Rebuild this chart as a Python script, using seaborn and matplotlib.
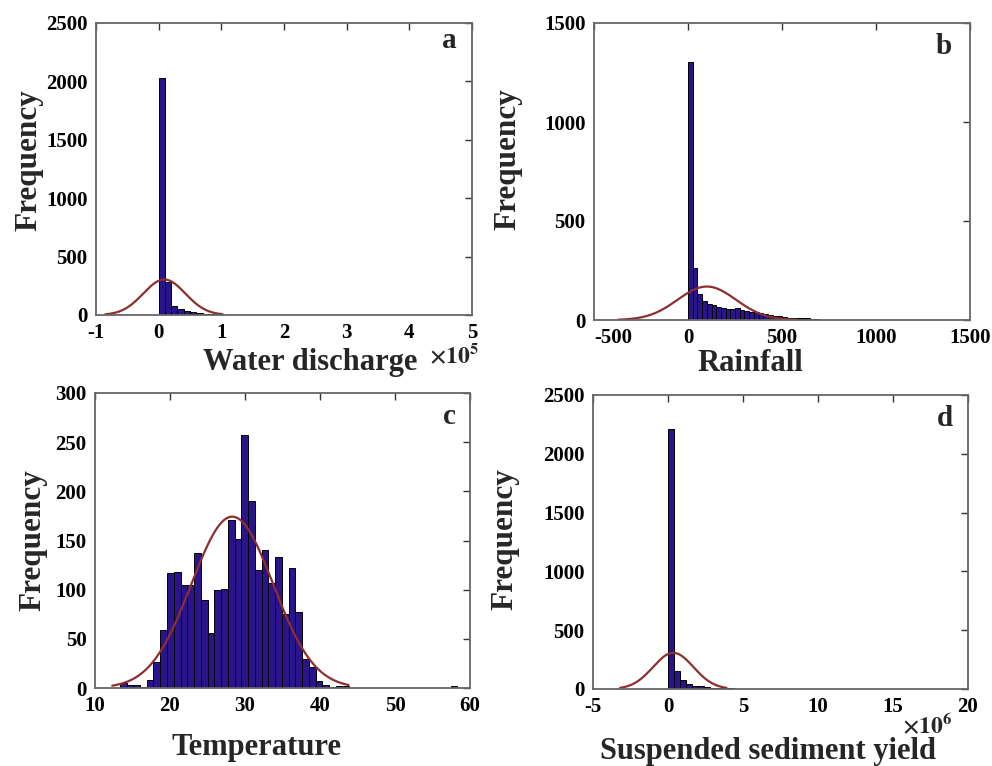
import numpy as np
import pandas as pd
import matplotlib
matplotlib.use("Agg")
import matplotlib.pyplot as plt
import seaborn as sns

# ---------------- data ----------------
# (a) Water discharge, units of 1e5, bins of width 0.1 starting at 0
wd_start, wd_width = 0.0, 0.1
wd_counts = [2030, 285, 80, 55, 32, 25, 15, 10, 6, 4, 3, 2, 2, 1, 1, 1]
wd_fit = dict(mean=0.09, sd=0.335, n=2552)

# (b) Rainfall, bins of width 25 starting at 0
rf_start, rf_width = 0.0, 25.0
rf_counts = [1301, 261, 130, 95, 82, 76, 67, 60, 55, 57, 59, 50, 47, 42, 38,
             34, 29, 25, 22, 18, 14, 10, 8, 12, 11, 8, 5, 3, 2, 2, 1, 1, 1, 1]
rf_fit = dict(mean=100.0, sd=155.0, n=2627)

# (c) Temperature, bins of width 0.9 starting at 13.3
tp_start, tp_width = 13.3, 0.9
tp_counts = [5, 3, 3, 1, 8, 26, 59, 117, 118, 105, 105, 137, 90, 56, 100, 101,
             171, 152, 257, 190, 120, 140, 107, 133, 75, 122, 77, 29, 21, 7, 3,
             1, 2, 2, 0, 0, 0, 0, 0, 0, 0, 0, 0, 0, 0, 0, 0, 0, 0, 2]
tp_fit = dict(mean=28.3, sd=5.45, n=2645)

# (d) Suspended sediment yield, units of 1e6, bins of width 0.4 starting at 0
ss_start, ss_width = 0.0, 0.4
ss_counts = [2213, 150, 80, 45, 28, 22, 17, 12, 9, 7, 5, 4, 3, 2, 2, 1, 1]
ss_fit = dict(mean=0.35, sd=1.35, n=2601)

# ---------------- style ----------------
sns.set_theme(style="white")
plt.rcParams["font.family"] = ["Liberation Serif", "DejaVu Serif"]
plt.rcParams["font.weight"] = "bold"
plt.rcParams["mathtext.fontset"] = "stix"

BAR = "#2b138c"
CURVE = "#8e2f2f"
SPINE = "#666666"

fig = plt.figure(figsize=(9.92, 7.66), dpi=100)

W, H = 992, 766
def axrect(l, t, r, b):
    return [l / W, 1 - b / H, (r - l) / W, (b - t) / H]

panels = [
    dict(rect=axrect(96, 23, 472, 315), start=wd_start, width=wd_width, counts=wd_counts,
         fit=wd_fit, xlim=(-1, 5), xticks=np.arange(-1, 6, 1), ylim=(0, 2500),
         yticks=np.arange(0, 2501, 500), letter="a", xlabel="Water discharge",
         xl=(0.569, -0.163), yl=(-0.14, 0.53), lt=(0.94, 0.94), off=r"$\mathbf{\times 10^5}$",
         offpos=(0.885, -0.14), curve=(-0.85, 1.02), first_left=False),
    dict(rect=axrect(594, 23, 970, 320), start=rf_start, width=rf_width, counts=rf_counts,
         fit=rf_fit, xlim=(-500, 1500), xticks=np.arange(-500, 1501, 500), ylim=(0, 1500),
         yticks=np.arange(0, 1501, 500), letter="b", xlabel="Rainfall",
         xl=(0.415, -0.148), yl=(-0.19, 0.54), lt=(0.93, 0.92), off=None, offpos=None,
         curve=(-370, 580), first_left=True),
    dict(rect=axrect(95, 393, 470, 688), start=tp_start, width=tp_width, counts=tp_counts,
         fit=tp_fit, xlim=(10, 60), xticks=np.arange(10, 61, 10), ylim=(0, 300),
         yticks=np.arange(0, 301, 50), letter="c", xlabel="Temperature",
         xl=(0.43, -0.2), yl=(-0.128, 0.50), lt=(0.944, 0.919), off=None, offpos=None,
         curve=(12.3, 43.8), first_left=False),
    dict(rect=axrect(593, 395, 968, 689), start=ss_start, width=ss_width, counts=ss_counts,
         fit=ss_fit, xlim=(-5, 20), xticks=np.arange(-5, 21, 5), ylim=(0, 2500),
         yticks=np.arange(0, 2501, 500), letter="d", xlabel="Suspended sediment yield",
         xl=(0.467, -0.212), yl=(-0.195, 0.51), lt=(0.939, 0.92), off=r"$\mathbf{\times 10^6}$",
         offpos=(0.825, -0.128), curve=(-3.2, 3.9), first_left=False),
]

for p in panels:
    ax = fig.add_axes(p["rect"])
    counts = np.asarray(p["counts"], dtype=float)
    edges = p["start"] + p["width"] * np.arange(len(counts) + 1)
    centers = (edges[:-1] + edges[1:]) / 2
    df = pd.DataFrame({"x": centers, "w": counts})
    sns.histplot(data=df, x="x", weights="w", bins=[float(e) for e in edges], ax=ax,
                 stat="count", color=BAR, alpha=1.0, edgecolor="black", linewidth=0.7)
    f = p["fit"]
    xs = np.linspace(p["curve"][0], p["curve"][1], 300)
    ys = f["n"] * p["width"] / (f["sd"] * np.sqrt(2 * np.pi)) * np.exp(-0.5 * ((xs - f["mean"]) / f["sd"]) ** 2)
    sns.lineplot(x=xs, y=ys, ax=ax, color=CURVE, linewidth=1.6)

    ax.set_xlim(*p["xlim"])
    ax.set_ylim(*p["ylim"])
    ax.set_xticks(p["xticks"])
    ax.set_yticks(p["yticks"])
    ax.set_xticklabels([f"{v:g}" for v in p["xticks"]])
    ax.tick_params(direction="in", length=5, width=1, colors="#333333",
                   top=True, right=True, labelsize=15)
    ax.tick_params(axis="y", pad=6)
    ax.tick_params(axis="x", pad=5.5)
    for lab in ax.get_xticklabels() + ax.get_yticklabels():
        lab.set_color("black")
        lab.set_fontweight("bold")
    if p["first_left"]:
        ax.get_xticklabels()[0].set_horizontalalignment("left")
    for s in ax.spines.values():
        s.set_color(SPINE)
        s.set_linewidth(1.3)

    ax.set_xlabel(p["xlabel"], fontsize=22, fontweight="bold")
    ax.xaxis.set_label_coords(*p["xl"])
    ax.xaxis.label.set_verticalalignment("center")
    ax.set_ylabel("Frequency", fontsize=22.5, fontweight="bold")
    ax.yaxis.set_label_coords(*p["yl"])
    ax.text(p["lt"][0], p["lt"][1], p["letter"], transform=ax.transAxes,
            fontsize=21, fontweight="bold", ha="center", va="center")
    if p["off"]:
        ax.text(p["offpos"][0], p["offpos"][1], p["off"], transform=ax.transAxes,
                fontsize=17, ha="left", va="center")

fig.savefig("out.png", dpi=100)
